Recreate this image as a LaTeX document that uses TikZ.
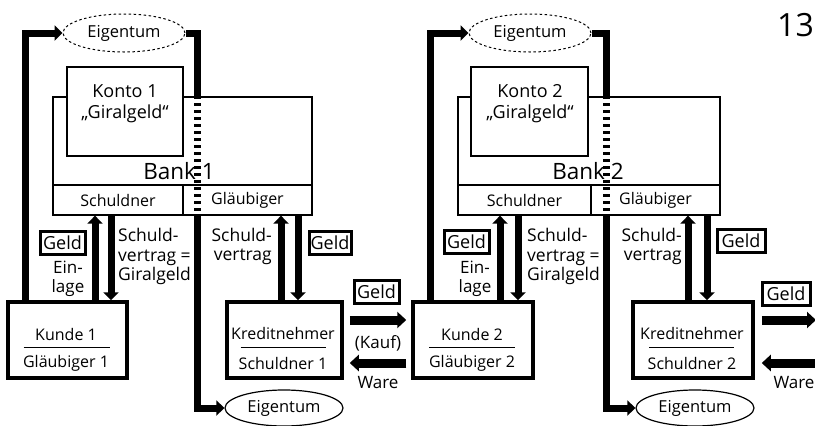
\documentclass[tikz,border=0pt]{standalone}
\usepackage{fontspec}
\setmainfont{Open Sans}
\usetikzlibrary{arrows.meta,shapes.geometric,calc}
\tikzset{
  thinbox/.style={draw, line width=1.3pt, rectangle, inner sep=0pt, font=\fontsize{16}{19}\selectfont},
  kontobox/.style={draw, line width=1.6pt, rectangle, fill=white, inner sep=0pt, minimum width=116pt, minimum height=89pt},
  partybox/.style={draw, line width=3.5pt, rectangle, inner sep=0pt, minimum width=119pt, minimum height=76pt},
  geldbox/.style={draw, line width=3pt, rectangle, fill=white, inner sep=0pt, minimum width=45pt, minimum height=23pt, font=\fontsize{18}{20}\selectfont},
  eigdash/.style={draw, ellipse, line width=1pt, dash pattern=on 2.5pt off 2.5pt, inner sep=0pt, minimum width=122pt, minimum height=38pt, font=\fontsize{16.5}{19}\selectfont},
  eigsolid/.style={draw, ellipse, line width=1.2pt, inner sep=0pt, minimum width=118pt, minimum height=36pt, font=\fontsize{16.5}{19}\selectfont},
  fat/.style={line width=7pt, line join=miter},
  fatarrow/.style={fat, -{Triangle[width=15pt,length=8pt]}},
  dashfat/.style={line width=7pt, dash pattern=on 3pt off 4pt},
  harrow/.style={line width=9pt, -{Triangle[width=16pt,length=9pt]}},
  sepline/.style={line width=1pt},
  banklabel/.style={font=\fontsize{22.5}{24}\selectfont, inner sep=0pt},
  plain/.style={inner sep=0pt},
  partytext/.style={inner sep=0pt, font=\fontsize{16}{19}\selectfont},
  kontotext/.style={inner sep=0pt, align=center, font=\fontsize{18}{21}\selectfont},
  sidetext/.style={inner sep=0pt, font=\fontsize{17.5}{19.5}\selectfont},
}
\begin{document}
\begin{tikzpicture}[x=1pt,y=-1pt,font=\fontsize{17}{19}\selectfont]
\useasboundingbox (0,0) rectangle (815,426);

% ---------------- left panel ----------------
\coordinate (ux1) at (25,0);
\coordinate (bx1) at (197,0);
\coordinate (ua1) at (95,0);
\coordinate (da1) at (111,0);
\coordinate (ub1) at (281,0);
\coordinate (db1) at (298,0);

\node[eigdash] (eig1) at (124,33) {Eigentum};
\node[thinbox, minimum width=259pt, minimum height=88pt] (bank1) at (182.5,141) {};
\node[kontobox] (konto1) at (125,111.5) {};
\node[kontotext] (kontotext1) at (125,104) {Konto 1\\„Giralgeld“};
\node[thinbox, minimum width=130pt, minimum height=30pt] (sch1) at (118,200) {Schuldner};
\node[thinbox, minimum width=129pt, minimum height=30pt] (gl1) at (247.5,200) {Gläubiger};
\node[banklabel] (banklab1) at (179,171) {Bank 1};

\node[partybox] (kunde1) at (67.5,340) {};
\node[partytext] (kundetext1) at (66,334) {Kunde 1};
\node[partytext] (kundegl1) at (66,363) {Gläubiger 1};
\draw[sepline] ([shift={(-44,7)}]kunde1.center) -- ([shift={(42,7)}]kunde1.center);

\node[partybox, minimum width=115pt] (kred1) at (284.5,340) {};
\node[partytext] (kredtext1) at (283,333) {Kreditnehmer};
\node[partytext] (kredsch1) at (283,363) {Schuldner 1};
\draw[sepline] ([shift={(-44,7)}]kred1.center) -- ([shift={(41,7)}]kred1.center);

\node[eigsolid] (eigB1) at (284,408) {Eigentum};

\node[geldbox] (geld1a) at (62.5,242.5) {Geld};
\node[geldbox, minimum width=42pt] (geld1b) at (330,243) {Geld};
\node[geldbox] (geld1c) at (376.5,291.5) {Geld};

\node[plain, align=center] (einlage1) at (68,279) {Ein-\\lage};
\node[sidetext, align=left, anchor=north west] (sv1) at (118,228) {Schuld-\\vertrag =\\Giralgeld};
\node[sidetext, align=right, anchor=north east] (svr1) at (272,228) {Schuld-\\vertrag};
\node[plain] (kauf1) at (378,343) {(Kauf)};
\node[plain] (ware1) at (378,383) {Ware};

\draw[fatarrow] (kunde1.north -| ux1) -- (ux1 |- eig1) -- (eig1.west);
\draw[fat] (eig1.east) -- (bx1 |- eig1) -- (bx1 |- bank1.north);
\draw[dashfat] (bx1 |- bank1.north) -- (bx1 |- gl1.south);
\draw[fatarrow] (bx1 |- gl1.south) -- (bx1 |- eigB1) -- (eigB1.west);
\draw[fatarrow] (ua1 |- kunde1.north) -- (ua1 |- sch1.south);
\draw[fatarrow] (da1 |- sch1.south) -- (da1 |- kunde1.north);
\draw[fatarrow] (ub1 |- kred1.north) -- (ub1 |- gl1.south);
\draw[fatarrow] (db1 |- gl1.south) -- (db1 |- kred1.north);

% ---------------- right panel ----------------
\coordinate (ux2) at (430,0);
\coordinate (bx2) at (606,0);
\coordinate (ua2) at (500,0);
\coordinate (da2) at (518,0);
\coordinate (ub2) at (688,0);
\coordinate (db2) at (707,0);
\coordinate (kaufy) at (0,320);
\coordinate (warey) at (0,363);
\coordinate (edgeK) at (816,0);
\coordinate (edgeW) at (835,0);

\node[eigdash] (eig2) at (530,33) {Eigentum};
\node[thinbox, minimum width=262pt, minimum height=88pt] (bank2) at (589,141) {};
\node[kontobox, minimum width=117pt] (konto2) at (529.5,111.5) {};
\node[kontotext] (kontotext2) at (530,104) {Konto 2\\„Giralgeld“};
\node[thinbox, minimum width=133pt, minimum height=30pt] (sch2) at (524.5,200) {Schuldner};
\node[thinbox, minimum width=129pt, minimum height=30pt] (gl2) at (655.5,200) {Gläubiger};
\node[banklabel] (banklab2) at (588,171) {Bank 2};

\node[partybox, minimum width=120pt] (kunde2) at (473,340) {};
\node[partytext] (kundetext2) at (472,334) {Kunde 2};
\node[partytext] (kundegl2) at (472,363) {Gläubiger 2};
\draw[sepline] ([shift={(-44,7)}]kunde2.center) -- ([shift={(42,7)}]kunde2.center);

\node[partybox, minimum width=120pt] (kred2) at (693,340) {};
\node[partytext] (kredtext2) at (692,333) {Kreditnehmer};
\node[partytext] (kredsch2) at (692,363) {Schuldner 2};
\draw[sepline] ([shift={(-44,7)}]kred2.center) -- ([shift={(41,7)}]kred2.center);

\node[eigsolid] (eigB2) at (695,408) {Eigentum};

\node[geldbox] (geld2a) at (466.5,242) {Geld};
\node[geldbox, minimum width=48pt] (geld2b) at (741,241) {Geld};
\node[geldbox, minimum width=48pt] (geld2c) at (786,294) {Geld};

\node[plain, align=center] (einlage2) at (475,279) {Ein-\\lage};
\node[sidetext, align=left, anchor=north west] (sv2) at (527,228) {Schuld-\\vertrag =\\Giralgeld};
\node[sidetext, align=right, anchor=north east] (svr2) at (682,228) {Schuld-\\vertrag};
\node[plain] (ware2) at (794,383) {Ware};

\draw[fatarrow] (kunde2.north -| ux2) -- (ux2 |- eig2) -- (eig2.west);
\draw[fat] (eig2.east) -- (bx2 |- eig2) -- (bx2 |- bank2.north);
\draw[dashfat] (bx2 |- bank2.north) -- (bx2 |- gl2.south);
\draw[fatarrow] (bx2 |- gl2.south) -- (bx2 |- eigB2) -- (eigB2.west);
\draw[fatarrow] (ua2 |- kunde2.north) -- (ua2 |- sch2.south);
\draw[fatarrow] (da2 |- sch2.south) -- (da2 |- kunde2.north);
\draw[fatarrow] (ub2 |- kred2.north) -- (ub2 |- gl2.south);
\draw[fatarrow] (db2 |- gl2.south) -- (db2 |- kred2.north);

% ---------------- trade arrows ----------------
\draw[harrow, shorten <=6pt, shorten >=5pt] (kred1.east |- kaufy) -- (kunde2.west |- kaufy);
\draw[harrow, shorten <=5pt, shorten >=6pt] (kunde2.west |- warey) -- (kred1.east |- warey);
\draw[harrow, shorten <=7pt] (kred2.east |- kaufy) -- (edgeK |- kaufy);
\draw[harrow, shorten >=7pt] (edgeW |- warey) -- (kred2.east |- warey);

\node[anchor=base east, inner sep=0pt, font=\fontsize{32}{32}\selectfont] (pagenum) at (814,36) {13};
\end{tikzpicture}
\end{document}
